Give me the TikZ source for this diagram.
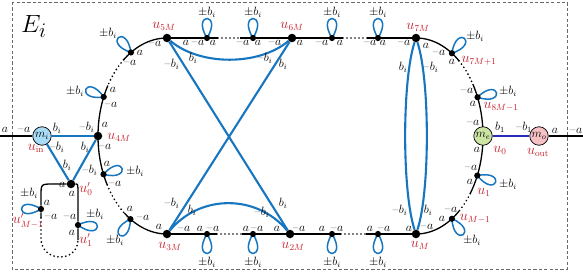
\documentclass[tikz,border=0pt]{standalone}
\usepackage{xcolor}
\definecolor{myblue}{RGB}{22,118,192}
\definecolor{myred}{RGB}{196,32,44}
\definecolor{lblue}{RGB}{168,220,246}
\definecolor{lgreen}{RGB}{204,228,164}
\definecolor{lpink}{RGB}{246,192,196}
\definecolor{navyc}{RGB}{40,44,186}
\definecolor{boxgray}{RGB}{105,105,105}
\pgfdeclarelayer{bg}
\pgfsetlayers{bg,main}
\newcommand{\ma}{\textendash\kern0.6pt$a$}
\newcommand{\mb}{\textendash\kern0.6pt$b_i$}
\newcommand{\pb}{$\pm b_i$}
\newcommand{\myloop}[2]{%
  \draw[loopst] (#1.center) .. controls +({26*cos(#2)-16*sin(#2)},{26*sin(#2)+16*cos(#2)}) and +({26*cos(#2)+16*sin(#2)},{26*sin(#2)-16*cos(#2)}) .. (#1.center);}
\tikzset{
  bigdot/.style={circle,fill=black,inner sep=0pt,minimum size=8.5pt},
  smalldot/.style={circle,fill=black,inner sep=0pt,minimum size=6.2pt},
  mnode/.style={circle,draw=black,line width=0.7pt,inner sep=0pt,minimum size=18.5pt,font=\fontsize{11.5}{13}\selectfont},
  lab/.style={inner sep=0pt,font=\fontsize{11.5}{13}\selectfont},
  rlab/.style={inner sep=0pt,text=myred,font=\fontsize{13.5}{15}\selectfont},
  blk/.style={line width=1.3pt,black},
  dots/.style={line width=1.9pt,black,dash pattern=on 0pt off 4pt,line cap=round},
  bedge/.style={draw=myblue,line width=2.1pt},
  loopst/.style={draw=myblue,line width=1.5pt},
  navyline/.style={draw=navyc,line width=1.1pt},
  boxst/.style={draw=boxgray,line width=0.7pt,dash pattern=on 3.2pt off 2.2pt}
}
\begin{document}
\begin{tikzpicture}[x=1pt,y=-1pt]
\useasboundingbox (0,0) rectangle (583,273);
% frame
\draw[boxst] (12,2) rectangle (567,269);
\node[anchor=base west,inner sep=0pt,font=\fontsize{28}{30}\selectfont] (Ei) at (21,32) {$E_i$};

% main nodes
\node[mnode,fill=lblue] (mi) at (42,136) {$m_i$};
\node[mnode,fill=lgreen] (me) at (483,136) {$m_e$};
\node[mnode,fill=lpink] (mo) at (539,136) {$m_o$};
\node[bigdot] (u4M) at (98,136) {};
\node[bigdot] (u5M) at (167,38) {};
\node[bigdot] (u6M) at (292,38) {};
\node[bigdot] (u7M) at (416,38) {};
\node[bigdot] (uM) at (416,234) {};
\node[bigdot] (u2M) at (290,234) {};
\node[bigdot] (u3M) at (167,234) {};
\node[bigdot] (u0p) at (71,184) {};
% loop nodes on arcs
\node[smalldot] (l1) at ({167+69*cos(238.5)},{136+98*sin(238.5)}) {};
\node[smalldot] (l2) at ({167+69*cos(203.5)},{136+98*sin(203.5)}) {};
\node[smalldot] (l3) at ({167+69*cos(157)},{136+98*sin(157)}) {};
\node[smalldot] (l4) at ({167+69*cos(122)},{136+98*sin(122)}) {};
\node[smalldot] (r1) at ({416+67*cos(-57.6)},{136+98*sin(-57.6)}) {};
\node[smalldot] (r2) at ({416+67*cos(-23.3)},{136+98*sin(-23.3)}) {};
\node[smalldot] (r3) at ({416+67*cos(23.8)},{136+98*sin(23.8)}) {};
\node[smalldot] (r4) at ({416+67*cos(57.6)},{136+98*sin(57.6)}) {};
\node[smalldot] (t1) at (207,38) {};
\node[smalldot] (t2) at (253,38) {};
\node[smalldot] (t3) at (332,38) {};
\node[smalldot] (t4) at (378,38) {};
\node[smalldot] (b1) at (207,234) {};
\node[smalldot] (b2) at (253,234) {};
\node[smalldot] (b3) at (332,234) {};
\node[smalldot] (b4) at (378,234) {};
\node[smalldot] (p1) at (41,209) {};
\node[smalldot] (p2) at (78,225) {};

% helper coordinates
\coordinate (Lend) at (0,136);
\coordinate (Rend) at (583,136);
\coordinate (ta) at (218,38);
\coordinate (tb) at (240,38);
\coordinate (tc) at (343,38);
\coordinate (td) at (367,38);
\coordinate (ba) at (217,234);
\coordinate (bb) at (242,234);
\coordinate (bc) at (341,234);
\coordinate (bd) at (366,234);
\coordinate (c1) at (53,184);
\coordinate (c2) at (41,196);
\coordinate (c3) at (41,218);
\coordinate (c4) at (41,238);
\coordinate (c5) at (78,240);
\coordinate (c6) at (78,194);

\begin{pgfonlayer}{bg}
% black skeleton
\draw[blk] (Lend) -- (mi);
\draw[blk] (mo) -- (Rend);
\draw[blk] plot[domain=270:231,samples=30] ({167+69*cos(\x)},{136+98*sin(\x)});
\draw[dots] plot[domain=231:211,samples=20] ({167+69*cos(\x)},{136+98*sin(\x)});
\draw[blk] plot[domain=211:150,samples=40] ({167+69*cos(\x)},{136+98*sin(\x)});
\draw[dots] plot[domain=150:128,samples=20] ({167+69*cos(\x)},{136+98*sin(\x)});
\draw[blk] plot[domain=128:90,samples=30] ({167+69*cos(\x)},{136+98*sin(\x)});
\draw[blk] plot[domain=-90:-50,samples=30] ({416+67*cos(\x)},{136+98*sin(\x)});
\draw[dots] plot[domain=-50:-32,samples=20] ({416+67*cos(\x)},{136+98*sin(\x)});
\draw[blk] plot[domain=-32:36,samples=40] ({416+67*cos(\x)},{136+98*sin(\x)});
\draw[dots] plot[domain=36:50,samples=20] ({416+67*cos(\x)},{136+98*sin(\x)});
\draw[blk] plot[domain=50:90,samples=30] ({416+67*cos(\x)},{136+98*sin(\x)});
\draw[blk] (u5M) -- (t1) -- (ta);
\draw[dots] (ta) -- (tb);
\draw[blk] (tb) -- (t2) -- (u6M) -- (t3) -- (tc);
\draw[dots] (tc) -- (td);
\draw[blk] (td) -- (t4) -- (u7M);
\draw[blk] (u3M) -- (b1) -- (ba);
\draw[dots] (ba) -- (bb);
\draw[blk] (bb) -- (b2) -- (u2M) -- (b3) -- (bc);
\draw[dots] (bc) -- (bd);
\draw[blk] (bd) -- (b4) -- (uM);
\draw[blk] (u0p) -- (c1) .. controls (41,184) .. (c2) -- (p1) -- (c3);
\draw[dots] (c3) -- (c4) .. controls (41,263) and (78,263) .. (c5);
\draw[blk] (u0p) .. controls (78,184) .. (c6) -- (p2) -- (c5);
% blue edges
\draw[bedge] (mi) -- (u4M);
\draw[bedge] (mi) -- (u0p);
\draw[bedge] (u4M) -- (u0p);
\draw[bedge] (u5M) .. controls (200,66) and (259,66) .. (u6M);
\draw[bedge] (u5M) -- (u2M);
\draw[bedge] (u6M) -- (u3M);
\draw[bedge] (u3M) .. controls (200,194) and (257,194) .. (u2M);
\draw[bedge] (u7M) .. controls (402,80) and (402,192) .. (uM);
\draw[bedge] (u7M) .. controls (430,80) and (430,192) .. (uM);
\draw[navyline] (me) -- (mo);
% loops
\myloop{l1}{-130}
\myloop{l2}{-157}
\myloop{l3}{-17}
\myloop{l4}{123}
\myloop{p1}{180}
\myloop{p2}{5}
\myloop{t1}{-90}
\myloop{t2}{-90}
\myloop{t3}{-90}
\myloop{t4}{-90}
\myloop{b1}{90}
\myloop{b2}{90}
\myloop{b3}{90}
\myloop{b4}{90}
\myloop{r1}{-50}
\myloop{r2}{-13}
\myloop{r3}{20}
\myloop{r4}{55}
\end{pgfonlayer}

% black labels
\node[lab] (q1) at (5,130) {$a$};
\node[lab] (q2) at (24,130) {\ma};
\node[lab] (q3) at (57,128) {$b_i$};
\node[lab] (q4) at (87,127) {\mb};
\node[lab] (q5) at (105,125) {$a$};
\node[lab] (q6) at (57,147) {\mb};
\node[lab] (q7) at (85,147) {$b_i$};
\node[lab] (q8) at (105,147) {\ma};
\node[lab] (q9) at (67,165) {$b_i$};
\node[lab] (q10) at (90,170) {\mb};
\node[lab] (q11) at (59,185) {\ma};
\node[lab] (q12) at (72,194) {$a$};
\node[lab] (q13) at (47,203) {$a$};
\node[lab] (q14) at (51,217) {\ma};
\node[lab] (q15) at (29,193) {\pb};
\node[lab] (q16) at (70,217) {\ma};
\node[lab] (q17) at (72,233) {$a$};
\node[lab] (q18) at (95,214) {\pb};
\node[lab] (q19) at (140,53) {$a$};
\node[lab] (q20) at (130,63) {\ma};
\node[lab] (q21) at (108,33) {\pb};
\node[lab] (q22) at (113,90) {$a$};
\node[lab] (q23) at (111,105) {\ma};
\node[lab] (q24) at (75,91) {\pb};
\node[lab] (q25) at (107,164) {$a$};
\node[lab] (q26) at (115,184) {\ma};
\node[lab] (q27) at (135,171) {\pb};
\node[lab] (q28) at (130,209) {$a$};
\node[lab] (q29) at (143,218) {\ma};
\node[lab] (q30) at (115,240) {\pb};
\node[lab] (q31) at (159,227) {$a$};
\node[lab] (q32) at (184,229) {\ma};
\node[lab] (q33) at (200,229) {$a$};
\node[lab] (q34) at (213,229) {\ma};
\node[lab] (q35) at (207,262) {\pb};
\node[lab] (q36) at (246,229) {$a$};
\node[lab] (q37) at (257,229) {\ma};
\node[lab] (q38) at (253,262) {\pb};
\node[lab] (q39) at (277,229) {$a$};
\node[lab] (q40) at (299,229) {\ma};
\node[lab] (q41) at (322,229) {$a$};
\node[lab] (q42) at (337,229) {\ma};
\node[lab] (q43) at (332,262) {\pb};
\node[lab] (q44) at (370,229) {$a$};
\node[lab] (q45) at (384,229) {\ma};
\node[lab] (q46) at (378,262) {\pb};
\node[lab] (q47) at (409,229) {$a$};
\node[lab] (q48) at (427,227) {\ma};
\node[lab] (q49) at (442,219) {$a$};
\node[lab] (q50) at (451,210) {\ma};
\node[lab] (q51) at (472,240) {\pb};
\node[lab] (q52) at (470,182) {$a$};
\node[lab] (q53) at (471,168) {\ma};
\node[lab] (q54) at (508,184) {\pb};
\node[lab] (q55) at (477,150) {$a$};
\node[lab] (q56) at (473,123) {\ma};
\node[lab] (q57) at (500,127) {$b_1$};
\node[lab] (q58) at (524,127) {\textendash\kern0.6pt$b_1$};
\node[lab] (q59) at (555,131) {$a$};
\node[lab] (q60) at (576,131) {\ma};
\node[lab] (q61) at (473,104) {$a$};
\node[lab] (q62) at (467,91) {\ma};
\node[lab] (q63) at (508,91) {\pb};
\node[lab] (q64) at (452,62) {$a$};
\node[lab] (q65) at (439,53) {\ma};
\node[lab] (q66) at (475,36) {\pb};
\node[lab] (q67) at (404,43) {\ma};
\node[lab] (q68) at (426,46) {$a$};
\node[lab] (q69) at (370,43) {\ma};
\node[lab] (q70) at (383,43) {$a$};
\node[lab] (q71) at (378,12) {\pb};
\node[lab] (q72) at (322,43) {\ma};
\node[lab] (q73) at (340,43) {$a$};
\node[lab] (q74) at (332,12) {\pb};
\node[lab] (q75) at (275,43) {\ma};
\node[lab] (q76) at (300,43) {$a$};
\node[lab] (q77) at (243,43) {\ma};
\node[lab] (q78) at (258,43) {$a$};
\node[lab] (q79) at (253,12) {\pb};
\node[lab] (q80) at (198,43) {\ma};
\node[lab] (q81) at (213,43) {$a$};
\node[lab] (q82) at (207,12) {\pb};
\node[lab] (q83) at (155,44) {\ma};
\node[lab] (q84) at (186,43) {$a$};
% labels of blue edges
\node[lab] (e1) at (172,64) {\mb};
\node[lab] (e2) at (193,58) {$b_i$};
\node[lab] (e3) at (265,58) {\mb};
\node[lab] (e4) at (283,64) {$b_i$};
\node[lab] (e5) at (172,203) {\mb};
\node[lab] (e6) at (192,210) {$b_i$};
\node[lab] (e7) at (262,212) {\mb};
\node[lab] (e8) at (283,203) {$b_i$};
\node[lab] (e9) at (403,67) {$b_i$};
\node[lab] (e10) at (431,67) {\mb};
\node[lab] (e11) at (400,210) {\mb};
\node[lab] (e12) at (428,210) {$b_i$};
% red labels
\node[rlab] (n1) at (164,26) {$u_{5M}$};
\node[rlab] (n2) at (292,26) {$u_{6M}$};
\node[rlab] (n3) at (418,27) {$u_{7M}$};
\node[rlab] (n4) at (119,137) {$u_{4M}$};
\node[rlab] (n5) at (170,246) {$u_{3M}$};
\node[rlab] (n6) at (293,246) {$u_{2M}$};
\node[rlab] (n7) at (420,245) {$u_{M}$};
\node[rlab] (n8) at (475,219) {$u_{M-1}$};
\node[rlab] (n9) at (484,192) {$u_{1}$};
\node[rlab] (n10) at (500,150) {$u_{0}$};
\node[rlab] (n11) at (538,152) {$u_{\mathrm{out}}$};
\node[rlab] (n12) at (501,107) {$u_{8M-1}$};
\node[rlab] (n13) at (479,61) {$u_{7M+1}$};
\node[rlab] (n14) at (36,148) {$u_{\mathrm{in}}$};
\node[rlab] (n15) at (86,189) {$u'_{0}$};
\node[rlab] (n16) at (28,221) {$u'_{M-1}$};
\node[rlab] (n17) at (86,240) {$u'_{1}$};
\end{tikzpicture}
\end{document}
